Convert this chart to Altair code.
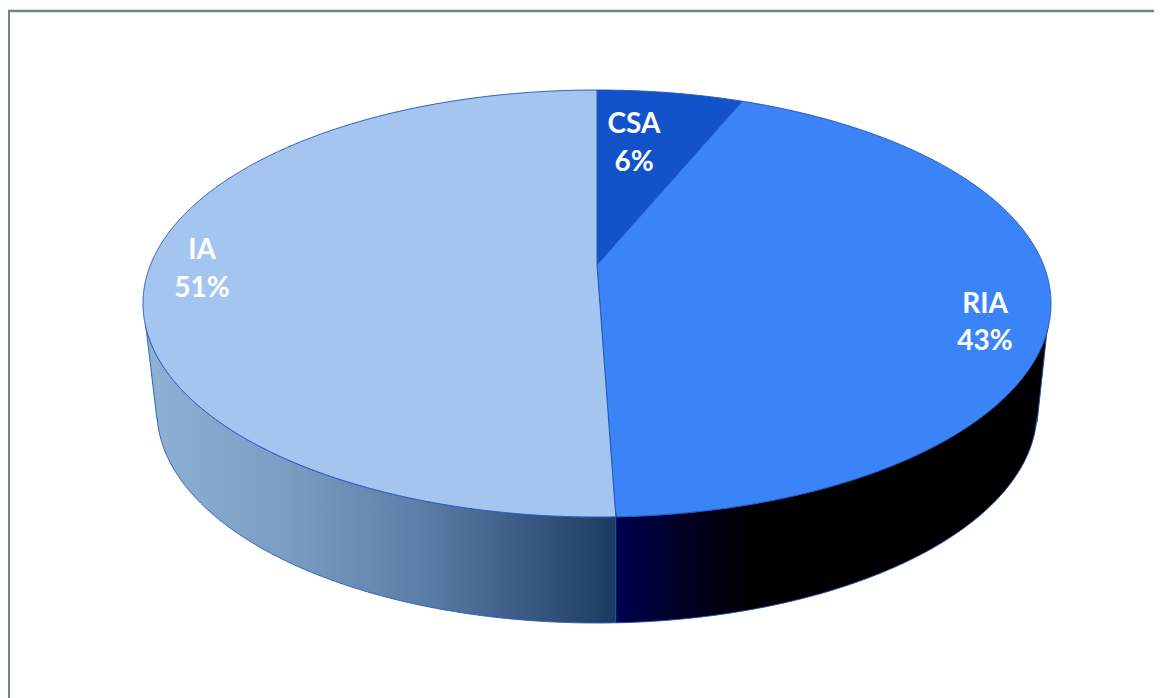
import numpy as np
import pandas as pd
import altair as alt

# Values
names = ["CSA", "RIA", "IA"]
shares = [6.2, 43.25, 50.55]
percent_labels = ["6%", "43%", "51%"]
slice_colors = ["#1353c9", "#3b84f7", "#a4c5f0"]

# Pie geometry in picture coordinates
CX, CY, A, B = 597.0, 303.5, 454.0, 213.5      # top face
APEX_Y = 265.0                                  # seen centre of the disc
BX, BY, BA, BB = 597.0, 411.0, 440.0, 212.0     # bottom face
TAN_L = (145.5, 323.0)
TAN_L2 = (157.0, 420.0)
TAN_R = (1048.0, 322.0)
TAN_R2 = (1037.0, 423.0)

k = (CY - APEX_Y) / B


def rim_point(share_sum):
    phi = np.radians(share_sum * 3.6)
    s, c = np.sin(phi), np.cos(phi)
    d = 1 + k * c
    return CX + A * s * np.sqrt(1 - k * k) / d, CY - B * (c + k) / d


P1 = rim_point(shares[0])
P2 = rim_point(shares[0] + shares[1])


def rim_top(x):
    return CY - B * np.sqrt(np.clip(1 - ((x - CX) / A) ** 2, 0, 1))


def rim_bot(x):
    return CY + B * np.sqrt(np.clip(1 - ((x - CX) / A) ** 2, 0, 1))


def low_bot(x):
    return BY + BB * np.sqrt(np.clip(1 - ((x - BX) / BA) ** 2, 0, 1))


def to_p(x, p):
    return APEX_Y + (p[1] - APEX_Y) * (x - CX) / (p[0] - CX)


def xs_between(x0, x1):
    th = np.linspace(-np.pi / 2, np.pi / 2, 900)
    xs = CX + A * np.sin(th)
    xs = xs[(xs > x0) & (xs < x1)]
    return np.concatenate([[x0], xs, [x1]])


def wall_low(x):
    if x < TAN_L2[0]:
        return TAN_L[1] + (TAN_L2[1] - TAN_L[1]) * (x - TAN_L[0]) / (TAN_L2[0] - TAN_L[0])
    if x > TAN_R2[0]:
        return TAN_R[1] + (TAN_R2[1] - TAN_R[1]) * (x - TAN_R[0]) / (TAN_R2[0] - TAN_R[0])
    return float(low_bot(x))


rows = []
for x in xs_between(CX, P1[0]):
    rows.append(dict(s="CSA", x=x, y=rim_top(x), y2=to_p(x, P1) if x > CX else APEX_Y))
for x in xs_between(CX, CX + A):
    rows.append(dict(s="RIA", x=x,
                     y=to_p(x, P1) if x < P1[0] else rim_top(x),
                     y2=to_p(x, P2) if x < P2[0] else rim_bot(x)))
for x in xs_between(CX - A, CX):
    rows.append(dict(s="IA", x=x, y=rim_top(x), y2=rim_bot(x)))
for x in xs_between(CX + 0.01, P2[0]):
    rows.append(dict(s="IA", x=x, y=to_p(x, P2), y2=rim_bot(x)))
faces = pd.DataFrame(rows)

wall_l = pd.DataFrame([dict(x=x, y=rim_bot(x), y2=wall_low(x))
                       for x in xs_between(TAN_L[0], P2[0])])
wall_r = pd.DataFrame([dict(x=x, y=rim_bot(x), y2=wall_low(x))
                       for x in xs_between(P2[0], TAN_R[0])])

text_x = [634, 985, 202]
name_y = [125, 305, 251]
pct_y = [163, 342, 289]
labels = pd.DataFrame(
    [dict(t=n, x=x, y=y) for n, x, y in zip(names, text_x, name_y)]
    + [dict(t=p, x=x, y=y) for p, x, y in zip(percent_labels, text_x, pct_y)]
)

xs = alt.Scale(domain=[8, 1154], range=[0, 1146])
ys = alt.Scale(domain=[8, 698], range=[0, 690])
X = alt.X("x:Q", scale=xs, axis=None)
Y = alt.Y("y:Q", scale=ys, axis=None)
Y2 = alt.Y2("y2:Q")

left_grad = alt.Gradient(
    gradient="linear", x1=0, x2=1, y1=0, y2=0,
    stops=[alt.GradientStop(offset=0, color="#90b1d6"),
           alt.GradientStop(offset=0.3, color="#7b9cc3"),
           alt.GradientStop(offset=0.6, color="#5b7ca6"),
           alt.GradientStop(offset=1, color="#1b3a62")])
right_grad = alt.Gradient(
    gradient="linear", x1=0, x2=1, y1=0, y2=0,
    stops=[alt.GradientStop(offset=0, color="#000050"),
           alt.GradientStop(offset=0.17, color="#000020"),
           alt.GradientStop(offset=0.33, color="#000000"),
           alt.GradientStop(offset=1, color="#000000")])

frame_v = alt.Chart(pd.DataFrame({"x": [8.5], "y": [10], "y2": [698]})).mark_rule(
    color="#6e8585", strokeWidth=3).encode(x=X, y=Y, y2=Y2)
frame_h = alt.Chart(pd.DataFrame({"y": [11], "x": [8], "x2": [1154]})).mark_rule(
    color="#6e8585", strokeWidth=2.5).encode(x=X, x2=alt.X2("x2:Q"), y=Y)

wl = alt.Chart(wall_l).mark_area(color=left_grad, stroke="#2a62b8", strokeWidth=1).encode(x=X, y=Y, y2=Y2)
wr = alt.Chart(wall_r).mark_area(color=right_grad, stroke="#1a4fb0", strokeWidth=1).encode(x=X, y=Y, y2=Y2)

top = alt.Chart(faces).mark_area(stroke="#2458bd", strokeWidth=1).encode(
    x=X, y=Y, y2=Y2,
    color=alt.Color("s:N", scale=alt.Scale(domain=names, range=slice_colors), legend=None),
)

text = alt.Chart(labels).mark_text(
    font="Lato", fontWeight="bold", fontSize=28, color="white", align="center", baseline="middle"
).encode(x=X, y=Y, text="t:N")

chart = (
    alt.layer(frame_v, frame_h, wl, wr, top, text)
    .properties(width=1146, height=690, padding=0, autosize=alt.AutoSizeParams(type="none"))
    .configure_view(stroke=None)
)
chart.save("out.html", embed_options={"renderer": "svg", "actions": False})
